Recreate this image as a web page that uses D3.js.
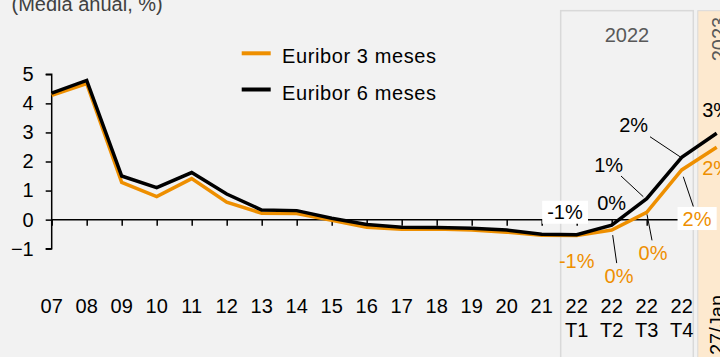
<!DOCTYPE html>
<html>
<head>
<meta charset="utf-8">
<script src="https://cdn.jsdelivr.net/npm/d3@7"></script>
<style>
  html, body { margin: 0; padding: 0; background: #f2f2f2; }
  svg { display: block; font-family: "Liberation Sans", Arial, sans-serif; }
</style>
</head>
<body>
<div id="chart"></div>
<script>
// ---- data ----
const categories = ["07","08","09","10","11","12","13","14","15","16","17","18","19","20","21","22 T1","22 T2","22 T3","22 T4","27/Jan"];
const tickTop    = ["07","08","09","10","11","12","13","14","15","16","17","18","19","20","21","22","22","22","22",""];
const tickBottom = ["","","","","","","","","","","","","","","","T1","T2","T3","T4",""];
const euribor3m = [4.28, 4.68, 1.28, 0.79, 1.41, 0.60, 0.22, 0.21, -0.02, -0.26, -0.33, -0.32, -0.36, -0.43, -0.54, -0.55, -0.36, 0.25, 1.71, 2.49];
const euribor6m = [4.35, 4.79, 1.50, 1.10, 1.62, 0.88, 0.33, 0.31, 0.05, -0.17, -0.26, -0.27, -0.30, -0.36, -0.50, -0.52, -0.19, 0.72, 2.14, 2.97];
const yTicks = [-1, 0, 1, 2, 3, 4, 5];
const seriesNames = ["Euribor 3 meses", "Euribor 6 meses"];
const labelCats = ["22 T1", "22 T2", "22 T3", "22 T4", "27/Jan"];
const labels3m = ["-1%", "0%", "0%", "2%", "2%"];
const labels6m = ["-1%", "0%", "1%", "2%", "3%"];
const title = "(Media anual, %)";
const periodLabel = "2022";
const periodLabel2 = "2023";
const lastLabel = "27/Jan";

// ---- layout / style ----
const W = 720, H = 357;
const ORANGE = "#ee8f00", BLACK = "#000000";
const FS = 20;

const svg = d3.select("#chart").append("svg").attr("width", W).attr("height", H);
svg.append("rect").attr("width", W).attr("height", H).attr("fill", "#f2f2f2");

const x = d3.scalePoint().domain(categories).range([51.7, 716.7]);
const y = d3.scaleLinear().domain([-1, 5]).range([248.7, 74.3]);
const step = x.step();

// Period boxes
const boxL = x("21") + step / 2 + 1.5;
const boxR = x("22 T4") + 11.6;
svg.append("rect").attr("x", boxL).attr("y", 10.7).attr("width", boxR - boxL).attr("height", 360)
  .attr("fill", "#f2f2f2").attr("stroke", "#d9d9d9").attr("stroke-width", 1.5);
svg.append("rect").attr("x", boxR + 4.5).attr("y", 10.7).attr("width", 40).attr("height", 360)
  .attr("fill", "#fde9cf").attr("stroke", "#d9d9d9").attr("stroke-width", 1);

svg.append("text").attr("x", (boxL + boxR) / 2).attr("y", 41.5).attr("text-anchor", "middle")
  .attr("font-size", FS).attr("fill", "#595959").text(periodLabel);
svg.append("text").attr("transform", `translate(726,39) rotate(-90)`).attr("text-anchor", "middle")
  .attr("font-size", FS).attr("fill", "#595959").text(periodLabel2);

// Title
svg.append("text").attr("x", 11.5).attr("y", 10.5).attr("font-size", FS).attr("fill", "#404040").text(title);

// Y axis
const yAxis = d3.axisLeft(y).tickValues(yTicks).tickSize(6).tickPadding(12).tickFormat(d3.format("d"));
const gy = svg.append("g").attr("transform", "translate(51.7,0)").call(yAxis);
gy.select(".domain").attr("stroke", "#000").attr("stroke-width", 1.5).attr("d", `M-6,${y(5)}H0V${y(-1)}H-6`);
gy.selectAll(".tick line").attr("stroke", "#000").attr("stroke-width", 1.5);
gy.selectAll(".tick text").attr("font-size", FS).attr("fill", "#000").attr("font-family", "Liberation Sans, Arial, sans-serif");

// X axis at zero
const xAxis = d3.axisBottom(x).tickValues(categories.slice(0, 19)).tickSize(6).tickFormat("");
const gx = svg.append("g").attr("transform", `translate(0,${y(0)})`).call(xAxis);
gx.select(".domain").attr("stroke", "#000").attr("stroke-width", 1.5).attr("d", `M${x("07")},0H${x("22 T4") + 14}`);
gx.selectAll(".tick line").attr("stroke", "#000").attr("stroke-width", 1.5);

// X labels
const xl = svg.append("g").attr("font-size", FS).attr("text-anchor", "middle").attr("fill", "#000");
categories.forEach((c, i) => {
  if (tickTop[i]) xl.append("text").attr("x", x(c)).attr("y", 313).text(tickTop[i]);
  if (tickBottom[i]) xl.append("text").attr("x", x(c)).attr("y", 337).text(tickBottom[i]);
});
svg.append("text").attr("transform", `translate(724,355) rotate(-90)`).attr("font-size", FS)
  .attr("fill", "#000").text(lastLabel);

// Lines
const line = d3.line().x((d, i) => x(categories[i])).y(d => y(d));
svg.append("path").datum(euribor3m).attr("d", line).attr("fill", "none").attr("stroke", ORANGE)
  .attr("stroke-width", 3.5).attr("stroke-linejoin", "miter");
svg.append("path").datum(euribor6m).attr("d", line).attr("fill", "none").attr("stroke", BLACK)
  .attr("stroke-width", 3.5).attr("stroke-linejoin", "miter");

// Data labels (offsets from point: text centre dx, dy; optional leader and white box)
const lab6Style = [
  { dx: -11.7, dy: -22.5, box: true },
  { dx: 0, dy: -22 },
  { dx: -38, dy: -33.7, leader: [[-25.7, -22.7], [-3.4, -2]] },
  { dx: -48, dy: -32, leader: [[-31.7, -20.7], [-1.7, -0.7]] },
  { dx: 0, dy: -23 }
];
const lab3Style = [
  { dx: 0, dy: 25 },
  { dx: 7.3, dy: 46, leader: [[1, 5], [5, 33]] },
  { dx: 6.3, dy: 40.5, leader: [[0.3, 2], [5.3, 28]] },
  { dx: 15.3, dy: 48.6, box: true, leader: [[1.6, 6.8], [11.6, 36.5]] },
  { dx: 0, dy: 21 }
];
function drawLabels(vals, texts, styles, color) {
  const g = svg.append("g");
  labelCats.forEach((c, k) => {
    const i = categories.indexOf(c);
    const px = x(c), py = y(vals[i]);
    const s = styles[k];
    if (s.leader) {
      g.append("line").attr("x1", px + s.leader[0][0]).attr("y1", py + s.leader[0][1])
        .attr("x2", px + s.leader[1][0]).attr("y2", py + s.leader[1][1])
        .attr("stroke", "#000").attr("stroke-width", 1);
    }
    const t = g.append("text").attr("x", px + s.dx).attr("y", py + s.dy + 7)
      .attr("text-anchor", "middle").attr("font-size", FS).attr("fill", color).text(texts[k]);
    if (s.box) {
      const bb = t.node().getBBox();
      g.insert("rect", () => t.node()).attr("x", bb.x - 5).attr("y", py + s.dy - 11.5)
        .attr("width", bb.width + 10).attr("height", 23).attr("fill", "#fff");
    }
  });
}
drawLabels(euribor6m, labels6m, lab6Style, "#000");
drawLabels(euribor3m, labels3m, lab3Style, ORANGE);

// Legend
const leg = svg.append("g");
[[ORANGE, 53.3, 63.3], [BLACK, 89.5, 100]].forEach(([col, ly, ty], k) => {
  leg.append("line").attr("x1", 241.7).attr("x2", 270.7).attr("y1", ly).attr("y2", ly)
    .attr("stroke", col).attr("stroke-width", 4);
  leg.append("text").attr("x", 282).attr("y", ty).attr("font-size", FS).attr("fill", "#000")
    .attr("letter-spacing", 0.6).text(seriesNames[k]);
});
</script>
</body>
</html>
